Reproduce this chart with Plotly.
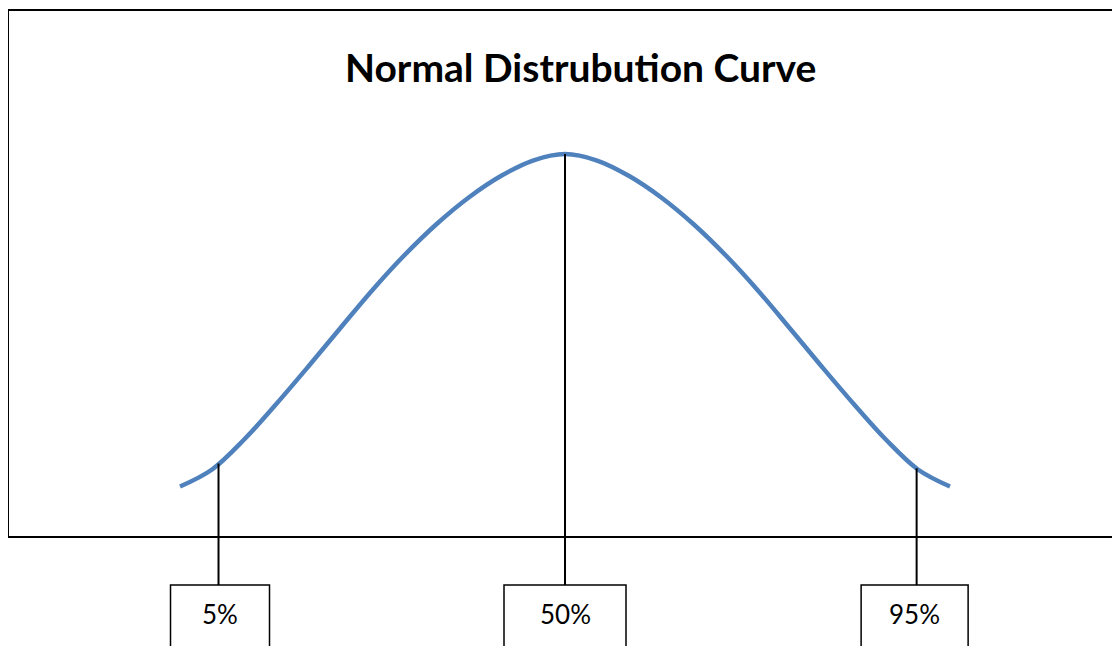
import plotly.graph_objects as go
import numpy as np

# ---- data ----
z_values = [-3.0, -2.75, -2.5, -2.25, -2.0, -1.75, -1.5, -1.25, -1.0, -0.75, -0.5, -0.25, 0.0,
            0.25, 0.5, 0.75, 1.0, 1.25, 1.5, 1.75, 2.0, 2.25, 2.5, 2.75, 3.0]
density = [0.0527, 0.0705, 0.1018, 0.1389, 0.1781, 0.2183, 0.2580, 0.2945, 0.3269, 0.3546, 0.3770, 0.3932, 0.4000,
           0.3932, 0.3770, 0.3546, 0.3269, 0.2945, 0.2580, 0.2183, 0.1781, 0.1389, 0.1018, 0.0705, 0.0527]
marker_labels = ["5%", "50%", "95%"]
marker_z = [-2.70, 0.0, 2.74]
title_text = "Normal Distrubution Curve"

# ---- layout / style ----
OFF = 8                      # page body margin of the browser
W, H = 1120 - OFF, 646 - OFF  # figure size that fits the window
PX_X = 128.33                # pixels per x unit
PX_Y = 957.5                 # pixels per y unit
CX_PAGE, BASE_PAGE = 565, 537  # page pixel of x=0 and of y=0

x_range = [(0 - (CX_PAGE - OFF)) / PX_X, (W - (CX_PAGE - OFF)) / PX_X]
y_range = [-(H - (BASE_PAGE - OFF)) / PX_Y, (BASE_PAGE - OFF) / PX_Y]

def ypage(py):
    return (BASE_PAGE - py) / PX_Y

def paper_x(px):
    return (px - OFF) / W

def paper_y(py):
    return 1 - (py - OFF) / H

box_widths_px = [99, 122, 107]
box_shift_px = [1.5, 0, -2]
box_top_val = ypage(585)
label_val = ypage(614)
font_family = "Lato, 'Open Sans', sans-serif"

fig = go.Figure()
fig.add_trace(go.Scatter(
    x=z_values, y=density, mode="lines",
    line=dict(color="#4F81BD", width=4.5, shape="spline", smoothing=1.0),
    hoverinfo="skip", showlegend=False))

shapes = []
annotations = []
for lab, zx, w, sh in zip(marker_labels, marker_z, box_widths_px, box_shift_px):
    top = float(np.interp(zx, z_values, density))
    fig.add_trace(go.Scatter(x=[zx, zx], y=[top, box_top_val], mode="lines",
                             line=dict(color="black", width=2),
                             hoverinfo="skip", showlegend=False))
    cx = zx + sh / PX_X
    half = w / 2 / PX_X
    shapes.append(dict(type="rect", xref="x", yref="y", x0=cx - half, x1=cx + half,
                       y0=box_top_val, y1=y_range[0] - 0.05,
                       line=dict(color="black", width=1.5), layer="above"))
    annotations.append(dict(x=cx, y=label_val, xref="x", yref="y", text=lab,
                            showarrow=False, font=dict(family=font_family, size=26, color="black"),
                            xanchor="center", yanchor="middle"))

shapes.append(dict(type="rect", xref="paper", yref="paper",
                   x0=paper_x(8), x1=1.05, y0=paper_y(537), y1=paper_y(10),
                   line=dict(color="black", width=2)))
annotations.append(dict(x=paper_x(580), y=paper_y(67), xref="paper", yref="paper",
                        text="<b>" + title_text + "</b>", showarrow=False,
                        font=dict(family=font_family, size=39, color="black"),
                        xanchor="center", yanchor="middle"))

fig.update_layout(
    width=W, height=H, margin=dict(l=0, r=0, t=0, b=0),
    paper_bgcolor="white", plot_bgcolor="white",
    xaxis=dict(range=x_range, visible=False, fixedrange=True),
    yaxis=dict(range=y_range, visible=False, fixedrange=True),
    shapes=shapes, annotations=annotations, showlegend=False)

fig.write_html("out.html")
